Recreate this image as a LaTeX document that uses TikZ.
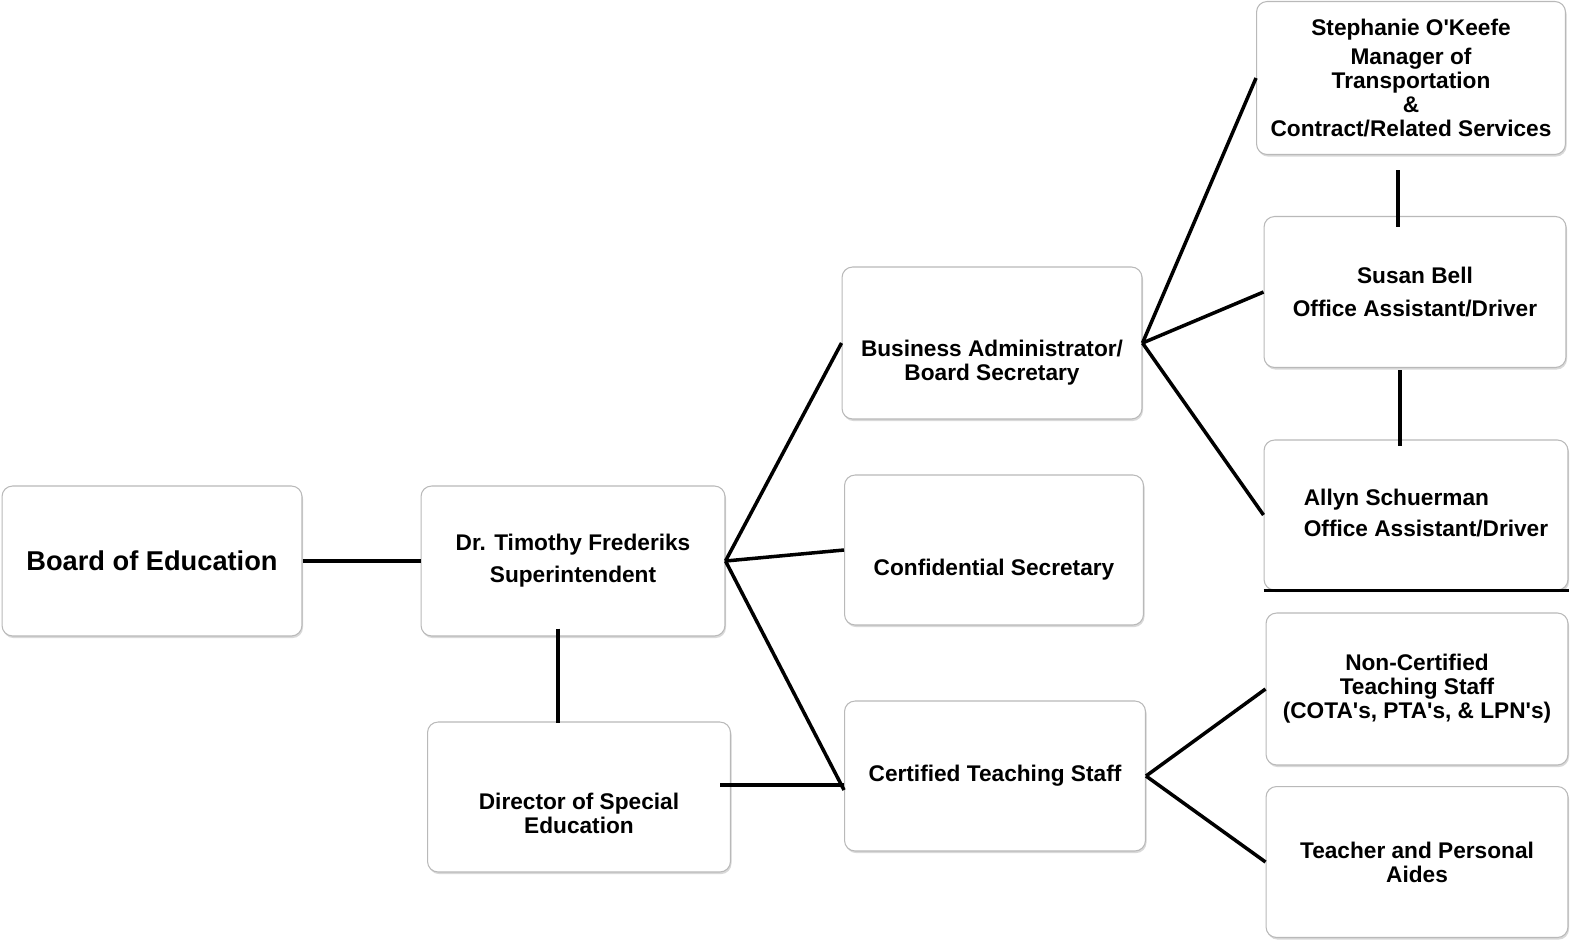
\documentclass[tikz,border=0pt]{standalone}
\usepackage{fontspec}
\setmainfont{Liberation Sans}
\usetikzlibrary{shadows}

\begin{document}
\begin{tikzpicture}
[x=0.02cm,y=-0.02cm,%
  box/.style={draw=gray!55,line width=0.6pt,rounded corners=6pt,fill=white,
    drop shadow={shadow xshift=0.6pt,shadow yshift=-1.2pt,opacity=0.3},
    minimum width=6cm,minimum height=3cm,align=center,inner sep=2pt,
    font=\bfseries\fontsize{12.9}{13.6}\selectfont},%
  txt/.style={align=center,font=\bfseries\fontsize{12.9}{13.6}\selectfont},%
  link/.style={line width=2pt}]
\useasboundingbox (0,0) rectangle (1571,943);

\node[box,font=\bfseries\fontsize{15.5}{18}\selectfont] (board) at (152,561) {Board of Education};
\node[box,minimum width=6.08cm] (supt) at (573,561) {Dr. Timothy Frederiks\\[4.5pt]Superintendent};
\node[box,minimum width=6.06cm,
  label={[txt,yshift=-0.32cm]center:Director of Special\\Education}] (director) at (579,797) {};

\node[box,minimum height=3.04cm,
  label={[txt,yshift=-0.4cm]center:Business Administrator/\\Board Secretary}] (busadmin) at (992,343) {};
\node[box,minimum width=5.98cm,
  label={[txt,yshift=-0.4cm]center:Confidential Secretary}] (confsec) at (994,550) {};
\node[box,minimum width=6.02cm] (certstaff) at (995,776) {Certified Teaching Staff};

\node[box,minimum width=6.18cm,minimum height=3.06cm] (okeefe) at (1411,78)
  {Stephanie O\textquotesingle Keefe\\[3pt]Manager of\\Transportation\\\&\\Contract/Related Services};
\node[box,minimum width=6.04cm,minimum height=3.02cm] (bell) at (1415,292)
  {Susan Bell\\[5pt]Office Assistant/Driver};
\node[box,minimum width=6.08cm,
  label={[txt,align=left,xshift=0.2cm,yshift=0.04cm]center:Allyn Schuerman\\[4.5pt]Office Assistant/Driver}] (schuerman) at (1416,515) {};
\node[box,minimum width=6.04cm,minimum height=3.04cm] (noncert) at (1417,689)
  {Non-Certified\\Teaching Staff\\(COTA\textquotesingle s, PTA\textquotesingle s, \& LPN\textquotesingle s)};
\node[box,minimum width=6.04cm,minimum height=3.02cm] (aides) at (1417,862)
  {Teacher and Personal\\Aides};

% connectors
\draw[link] (board) -- (supt);
\draw[link] (supt.east) -- (busadmin.west);
\draw[link] (supt.east) -- (confsec.west);
\draw[link] (supt.east) -- ([shift={(0,14)}]certstaff.west);
\draw[link] ([shift={(-15,-8)}]supt.south) -- ([shift={(-21,2)}]director.north);
\draw[link] ([shift={(-11,-12)}]director.east) -- ([shift={(0,9)}]certstaff.west);
\draw[link] (busadmin.east) -- (okeefe.west);
\draw[link] (busadmin.east) -- (bell.west);
\draw[link] (busadmin.east) -- (schuerman.west);
\draw[link] ([shift={(-13,15)}]okeefe.south) -- ([shift={(-17,11)}]bell.north);
\draw[link] ([shift={(-15,2)}]bell.south) -- ([shift={(-16,7)}]schuerman.north);
\draw[line width=1.2pt] (schuerman.south west) -- (schuerman.south east);
\draw[link] (certstaff.east) -- (noncert.west);
\draw[link] (certstaff.east) -- (aides.west);
\end{tikzpicture}
\end{document}
